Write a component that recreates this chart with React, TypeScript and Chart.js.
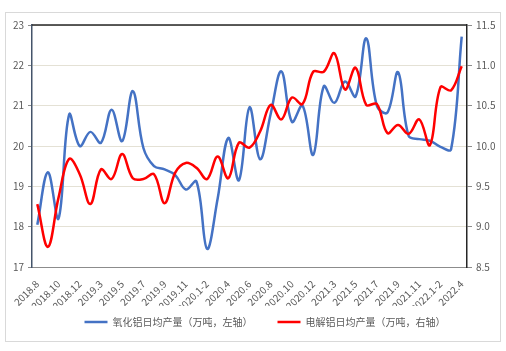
import React, { useEffect, useRef } from 'react';
import { Chart, registerables } from 'chart.js';

Chart.register(...registerables);

const categories = [
  '2018.8', '2018.9', '2018.10', '2018.11', '2018.12',
  '2019.1-2', '2019.3', '2019.4', '2019.5', '2019.6', '2019.7', '2019.8', '2019.9', '2019.10', '2019.11', '2019.12',
  '2020.1-2', '2020.3', '2020.4', '2020.5', '2020.6', '2020.7', '2020.8', '2020.9', '2020.10', '2020.11', '2020.12',
  '2021.1-2', '2021.3', '2021.4', '2021.5', '2021.6', '2021.7', '2021.8', '2021.9', '2021.10', '2021.11', '2021.12',
  '2022.1-2', '2022.3', '2022.4',
];

// 氧化铝日均产量（万吨，左轴）
const aluminaOutput = [
  18.05, 19.35, 18.2, 20.78, 20.0,
  20.35, 20.08, 20.9, 20.12, 21.36, 19.95, 19.5, 19.42, 19.28, 18.92, 19.12,
  17.45, 18.7, 20.2, 19.15, 20.96, 19.67, 20.8, 21.85, 20.6, 21.0, 19.78,
  21.48, 21.07, 21.6, 21.23, 22.67, 21.0, 20.83, 21.83, 20.25, 20.17, 20.13,
  19.98, 19.92, 22.71,
];

// 电解铝日均产量（万吨，右轴）
const electrolyticOutput = [
  9.28, 8.75, 9.36, 9.84, 9.65,
  9.28, 9.71, 9.59, 9.9, 9.6, 9.59, 9.65, 9.29, 9.67, 9.79, 9.73,
  9.59, 9.87, 9.6, 10.04, 9.98, 10.18, 10.51, 10.33, 10.6, 10.52, 10.92,
  10.92, 11.15, 10.7, 10.97, 10.51, 10.52, 10.16, 10.26, 10.15, 10.33, 10.01,
  10.73, 10.69, 10.99,
];

const seriesNames = ['氧化铝日均产量（万吨，左轴）', '电解铝日均产量（万吨，右轴）'];

const leftAxisMin = 17;
const leftAxisMax = 23;
const leftAxisStep = 1;
const rightAxisMin = 8.5;
const rightAxisMax = 11.5;
const rightAxisStep = 0.5;

export default function App() {
  const ref = useRef<HTMLCanvasElement>(null);

  useEffect(() => {
    document.body.style.margin = '0';
    const family = "'Noto Sans CJK SC', 'Noto Sans', sans-serif";
    const textColor = '#595959';

    const framePlugin = {
      id: 'frameTop',
      afterLayout(chart: any) {
        // lift the legend row closer to the rotated axis labels and nudge it right
        const lg = chart.legend;
        if (lg) {
          lg.top -= 14;
          lg.bottom -= 14;
          lg.left += 12;
          lg.right += 12;
        }
      },
      afterDraw(chart: any) {
        const { ctx, chartArea } = chart;
        ctx.save();
        ctx.strokeStyle = '#262626';
        ctx.lineWidth = 1.5;
        ctx.beginPath();
        ctx.moveTo(chartArea.left, chartArea.top);
        ctx.lineTo(chartArea.right, chartArea.top);
        ctx.stroke();
        ctx.restore();
      },
    };

    const chart = new Chart(ref.current as HTMLCanvasElement, {
      type: 'line',
      data: {
        labels: categories,
        datasets: [
          {
            label: seriesNames[0],
            data: aluminaOutput,
            yAxisID: 'y',
            borderColor: '#4472C4',
            backgroundColor: '#4472C4',
            borderWidth: 2.5,
            pointRadius: 0,
            tension: 0.38,
            order: 2,
          },
          {
            label: seriesNames[1],
            data: electrolyticOutput,
            yAxisID: 'y1',
            borderColor: '#FF0000',
            backgroundColor: '#FF0000',
            borderWidth: 2.5,
            pointRadius: 0,
            tension: 0.38,
            order: 1,
          },
        ],
      },
      options: {
        responsive: false,
        animation: false,
        layout: { padding: { top: 25, left: 0, right: 0, bottom: 0 } },
        plugins: {
          legend: {
            position: 'bottom',
            labels: {
              usePointStyle: true,
              pointStyle: 'line',
              pointStyleWidth: 23,
              color: textColor,
              font: { size: 10, family },
              padding: 25,
              sort: (a: any, b: any) => a.datasetIndex - b.datasetIndex,
            },
          },
          tooltip: { enabled: false },
        },
        scales: {
          x: {
            type: 'category',
            offset: true,
            grid: { display: false },
            border: { color: '#8c8c8c', width: 1 },
            ticks: {
              autoSkip: false,
              maxRotation: 45,
              minRotation: 45,
              color: textColor,
              font: { size: 10, family },
              padding: 3,
              callback: (_v: any, i: number) => (i % 2 === 0 ? categories[i] : ''),
            },
            afterFit: (s: any) => { s.height = 39; },
          },
          y: {
            position: 'left',
            min: leftAxisMin,
            max: leftAxisMax,
            ticks: { stepSize: leftAxisStep, color: textColor, font: { size: 10, family }, padding: 4 },
            grid: { color: '#e4e1d5', tickColor: '#8c8c8c', tickLength: 4 },
            border: { color: '#44546a', width: 1.5 },
            afterFit: (s: any) => { s.width = 32; },
          },
          y1: {
            position: 'right',
            min: rightAxisMin,
            max: rightAxisMax,
            ticks: { stepSize: rightAxisStep, color: textColor, font: { size: 10, family }, padding: 4 },
            grid: { drawOnChartArea: false, tickColor: '#8c8c8c', tickLength: 5 },
            border: { color: '#262626', width: 1.5 },
            afterFit: (s: any) => { s.width = 39; },
          },
        },
      },
      plugins: [framePlugin],
    });
    return () => chart.destroy();
  }, []);

  return (
    <div style={{ position: 'relative', width: 506, height: 351 }}>
      <canvas ref={ref} width={506} height={351} style={{ display: 'block', width: 506, height: 351 }} />
      <div
        style={{
          position: 'absolute', left: 5, top: 12, width: 496, height: 330,
          border: '1px solid #d9d9d9', boxSizing: 'border-box', pointerEvents: 'none',
        }}
      />
    </div>
  );
}
